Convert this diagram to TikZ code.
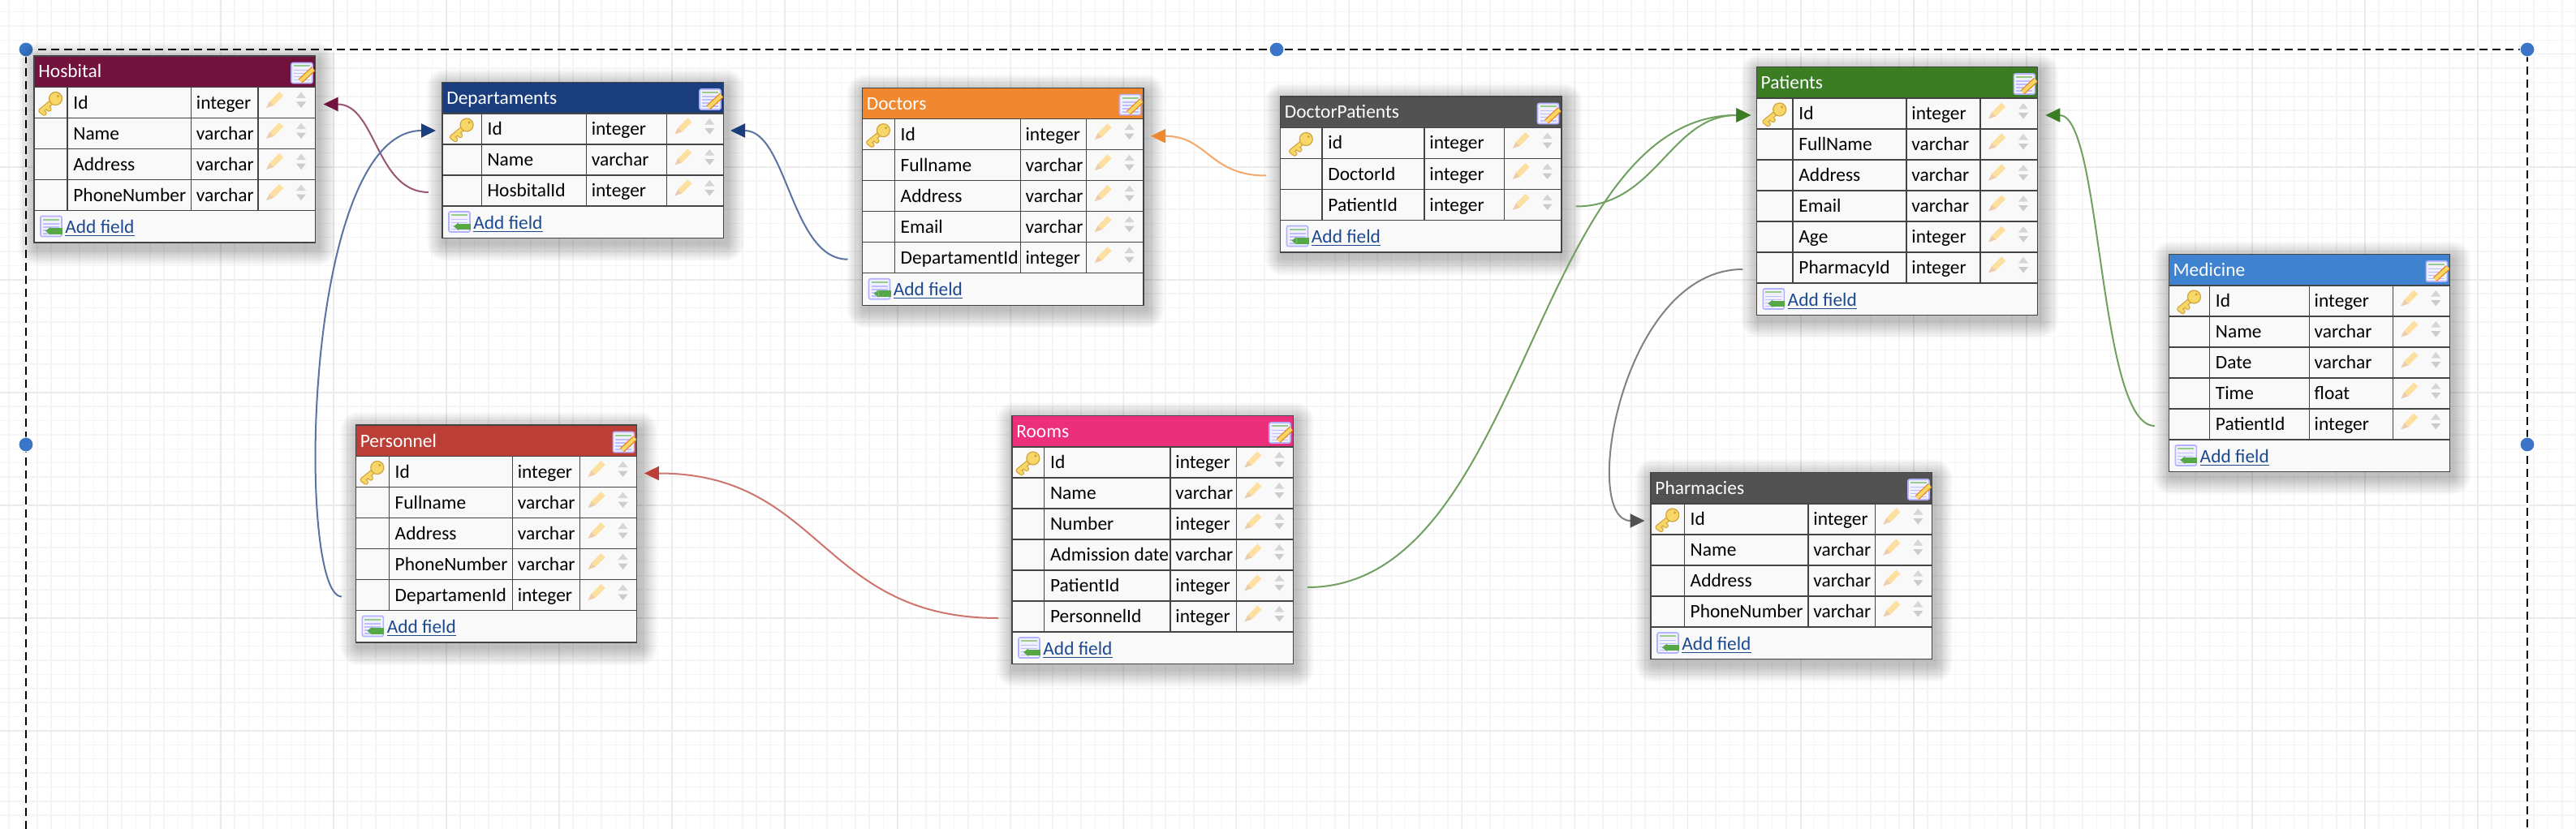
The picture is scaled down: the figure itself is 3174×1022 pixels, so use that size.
\documentclass[tikz,border=0pt]{standalone}
\usepackage{fontspec}
\setmainfont{Carlito}
\usetikzlibrary{arrows.meta}

\definecolor{hoscol}{HTML}{72133D}
\definecolor{depcol}{HTML}{1A3E7D}
\definecolor{doccol}{HTML}{F08830}
\definecolor{darkcol}{HTML}{525252}
\definecolor{patcol}{HTML}{3A7D23}
\definecolor{medcol}{HTML}{3F82D0}
\definecolor{roomcol}{HTML}{EB2F7B}
\definecolor{percol}{HTML}{BB3F36}
\definecolor{rowbg}{HTML}{F9F9F9}
\definecolor{celline}{HTML}{444444}
\definecolor{linkcol}{HTML}{1D4A8F}
\definecolor{handlecol}{HTML}{3A75C8}
\definecolor{keyedge}{HTML}{D2A23C}
\definecolor{keyfill}{HTML}{F6D767}
\definecolor{addgreen}{HTML}{55A845}

\tikzset{
  minorline/.style={draw=black!4,line width=.75pt},
  majorline/.style={draw=black!8,line width=.75pt},
  cellline/.style={draw=celline,line width=.55pt},
  dbhead/.style={minimum width=173.25pt,minimum height=19.25pt,fill=#1,draw=celline,line width=.55pt,inner sep=0pt,outer sep=0pt,anchor=north west},
  dbrow/.style={minimum width=173.25pt,minimum height=19pt,fill=rowbg,draw=celline,line width=.55pt,inner sep=0pt,outer sep=0pt,anchor=north west},
  dbfoot/.style={minimum width=173.25pt,minimum height=19.75pt,fill=rowbg,draw=celline,line width=.55pt,inner sep=0pt,outer sep=0pt,anchor=north west},
  dbtext/.style={font=\fontsize{11.7}{14}\selectfont,inner sep=0pt,anchor=base west},
  fklink/.style={line width=1pt,draw=#1!72,-{Triangle[length=9pt,width=8.5pt,color=#1]}},
  handle/.style={circle,fill=handlecol,draw=white,line width=.5pt,minimum size=9pt,inner sep=0pt},
  keyicon/.pic={
    \draw[draw=keyedge,line width=3.2pt,line cap=round] (4,-3) -- (-12,10) (-12,10) -- (-8,13) (-5,5) -- (-2,8);
    \draw[draw=keyfill,line width=2pt,line cap=round] (4,-3) -- (-12,10) (-12,10) -- (-8,13) (-5,5) -- (-2,8);
    \draw[draw=keyedge,fill=keyfill,line width=.6pt] (6,-5) circle (8);
    \fill[keyedge] (9,-8) circle (1.7);
  },
  pencilicon/.pic={
    \fill[yellow!35!orange!35] (-6,3) -- (6,-9) -- (11,-4) -- (-1,8) -- cycle;
    \fill[orange!30!brown!40] (-6,3) -- (-1,8) -- (-10,11) -- cycle;
  },
  updownicon/.pic={
    \fill[black!16] (-6,-5.5) -- (6,-5.5) -- (0,-13) -- cycle;
    \fill[black!20] (-6,-1) -- (6,-1) -- (0,6.5) -- cycle;
  },
  sheeticon/.pic={
    \draw[draw=blue!30!white,fill=blue!6!white,line width=.8pt,rounded corners=1pt] (-13,-12.5) rectangle (13,12.5);
    \fill[addgreen!60] (-10,-9.5) rectangle (10,-7.5);
    \foreach \k in {-4,0,4,8} \fill[blue!25!white] (-10,\k) rectangle (10,{\k+1.5});
  },
  editicon/.pic={
    \pic {sheeticon};
    \draw[draw=orange!70!brown,line width=3.4pt] (-2,10) -- (14,-5);
    \draw[draw=keyfill,line width=2.2pt] (-2,10) -- (14,-5);
  },
  addicon/.pic={
    \pic {sheeticon};
    \fill[addgreen] (-1,2) rectangle (14,9.5);
    \fill[addgreen] (-7,5.7) -- (-1,1) -- (-1,10.5) -- cycle;
  }
}

% id, title, colour, left, top, three column lines, rows
\newcommand{\dbtable}[9]{
  \foreach \rowname/\rowtype [count=\i] in {#9} {\xdef\lastrow{\i}}
  \foreach \g in {22,20,...,2}
    \fill[black,opacity=.022,rounded corners=\g*.5pt] ({#4+3-\g},{#5+6-\g}) rectangle ({#4+349.5+\g},{#5+6+78+38*\lastrow+\g});
  \node[dbhead=#3] (#1) at (#4,#5) {};
  \node[dbtext,text=white] (#1-title) at ({#4+5},{#5+27}) {#2};
  \pic at ({#4+330},{#5+21}) {editicon};
  \foreach \rowname/\rowtype [count=\i] in {#9} {
    \node[dbrow] (#1-\i) at (#4,{#5+38.5+38*(\i-1)}) {};
    \draw[cellline] (#6,{#5+38.5+38*(\i-1)}) -- ++(0,38)
      (#7,{#5+38.5+38*(\i-1)}) -- ++(0,38)
      (#8,{#5+38.5+38*(\i-1)}) -- ++(0,38);
    \node[dbtext] (#1-\i-name) at ({#6+7},{#5+65+38*(\i-1)}) {\rowname};
    \node[dbtext] (#1-\i-type) at ({#7+6},{#5+65+38*(\i-1)}) {\rowtype};
    \pic at ({#8+20},{#5+53+38*(\i-1)}) {pencilicon};
    \pic at ({#8+53},{#5+57.5+38*(\i-1)}) {updownicon};
    \ifnum\i=1 \pic at ({(#4+#6)/2},{#5+57.5}) {keyicon}; \fi
  }
  \node[dbfoot] (#1-foot) at (#4,{#5+38.5+38*\lastrow}) {};
  \pic at ({#4+21},{#5+58+38*\lastrow}) {addicon};
  \node[dbtext,text=linkcol] (#1-add) at ({#4+38},{#5+66.5+38*\lastrow}) {\underline{Add field}};
}

\begin{document}
\begin{tikzpicture}[x=.5pt,y=-.5pt]
  \useasboundingbox (0,0) rectangle (3174,1022);
  \fill[white] (0,0) rectangle (3174,1022);

  \foreach \k in {0,...,182} \draw[minorline] ({11.04+17.38*\k},0) -- ({11.04+17.38*\k},1022);
  \foreach \k in {0,...,58} \draw[minorline] (0,{14.56+17.38*\k}) -- (3174,{14.56+17.38*\k});
  \foreach \k in {0,...,23} \draw[majorline] ({-6.37+139.07*\k},0) -- ({-6.37+139.07*\k},1022);
  \foreach \k in {0,...,8} \draw[majorline] (0,{-72.37+139.07*\k}) -- (3174,{-72.37+139.07*\k});

  \coordinate (frame-nw) at (32,61);
  \coordinate (frame-ne) at (3114,61);
  \coordinate (frame-sw) at (32,1022);
  \coordinate (frame-se) at (3114,1022);
  \draw[white,line width=2.2pt] (frame-sw) -- (frame-nw) -- (frame-ne) -- (frame-se);
  \draw[black,line width=1pt,dash pattern=on 5pt off 3pt] (frame-sw) -- (frame-nw) -- (frame-ne) -- (frame-se);
  \node[handle] (handle-nw) at (frame-nw) {};
  \node[handle] (handle-n) at (1573,61) {};
  \node[handle] (handle-ne) at (frame-ne) {};
  \node[handle] (handle-w) at (32,548) {};
  \node[handle] (handle-e) at (3114,548) {};

  \dbtable{hosbital}{Hosbital}{hoscol}{42}{69}{83}{235.5}{318}
    {Id/integer,Name/varchar,Address/varchar,PhoneNumber/varchar}
  \dbtable{departaments}{Departaments}{depcol}{545}{101.5}{593.2}{722.4}{821.3}
    {Id/integer,Name/varchar,HosbitalId/integer}
  \dbtable{doctors}{Doctors}{doccol}{1062.5}{108.2}{1102.3}{1257.2}{1338.6}
    {Id/integer,Fullname/varchar,Address/varchar,Email/varchar,DepartamentId/integer}
  \dbtable{doctorpatients}{DoctorPatients}{darkcol}{1577.5}{119}{1629}{1755}{1853.6}
    {id/integer,DoctorId/integer,PatientId/integer}
  \dbtable{patients}{Patients}{patcol}{2164.3}{82.5}{2209}{2349}{2440}
    {Id/integer,FullName/varchar,Address/varchar,Email/varchar,Age/integer,PharmacyId/integer}
  \dbtable{medicine}{Medicine}{medcol}{2672.3}{313.5}{2722.5}{2845.3}{2948.3}
    {Id/integer,Name/varchar,Date/varchar,Time/float,PatientId/integer}
  \dbtable{personnel}{Personnel}{percol}{438.4}{524}{479.3}{631.4}{714.5}
    {Id/integer,Fullname/varchar,Address/varchar,PhoneNumber/varchar,DepartamenId/integer}
  \dbtable{rooms}{Rooms}{roomcol}{1247}{512.5}{1286.7}{1442}{1523.3}
    {Id/integer,Name/varchar,Number/integer,Admission date/varchar,PatientId/integer,PersonnelId/integer}
  \dbtable{pharmacies}{Pharmacies}{darkcol}{2034}{582.5}{2075.3}{2228}{2310.3}
    {Id/integer,Name/varchar,Address/varchar,PhoneNumber/varchar}

  \draw[fklink=hoscol] ([shift={(-17,2)}]departaments-3.west) .. controls +(-65,0) and +(65,0) .. ([shift={(10,2)}]hosbital-1.east);
  \draw[fklink=depcol] ([shift={(-17.5,2)}]personnel-5.west) .. controls +(-56,0) and +(-165,0) .. ([shift={(-8,2)}]departaments-1.west);
  \draw[fklink=depcol] ([shift={(-18,2)}]doctors-5.west) .. controls +(-70,0) and +(70,0) .. ([shift={(8.5,2)}]departaments-1.east);
  \draw[fklink=doccol] ([shift={(-17.5,2)}]doctorpatients-2.west) .. controls +(-70,0) and +(70,0) .. ([shift={(9,2)}]doctors-1.east);
  \draw[fklink=patcol] ([shift={(17.5,2)}]doctorpatients-3.east) .. controls +(100,0) and +(-100,0) .. ([shift={(-7,2)}]patients-1.west);
  \draw[fklink=patcol] ([shift={(17.5,2)}]rooms-5.east) .. controls +(270,0) and +(-270,0) .. ([shift={(-7,2)}]patients-1.west);
  \draw[fklink=patcol] ([shift={(-17.5,2)}]medicine-5.west) .. controls +(-70,0) and +(70,0) .. ([shift={(9.5,2)}]patients-1.east);
  \draw[fklink=darkcol] ([shift={(-17,2)}]patients-6.west) .. controls +(-150,0) and +(-80,0) .. ([shift={(-7.5,2)}]pharmacies-1.west);
  \draw[fklink=percol] ([shift={(-17,2)}]rooms-6.west) .. controls +(-220,0) and +(220,0) .. ([shift={(9,2)}]personnel-1.east);
\end{tikzpicture}
\end{document}
